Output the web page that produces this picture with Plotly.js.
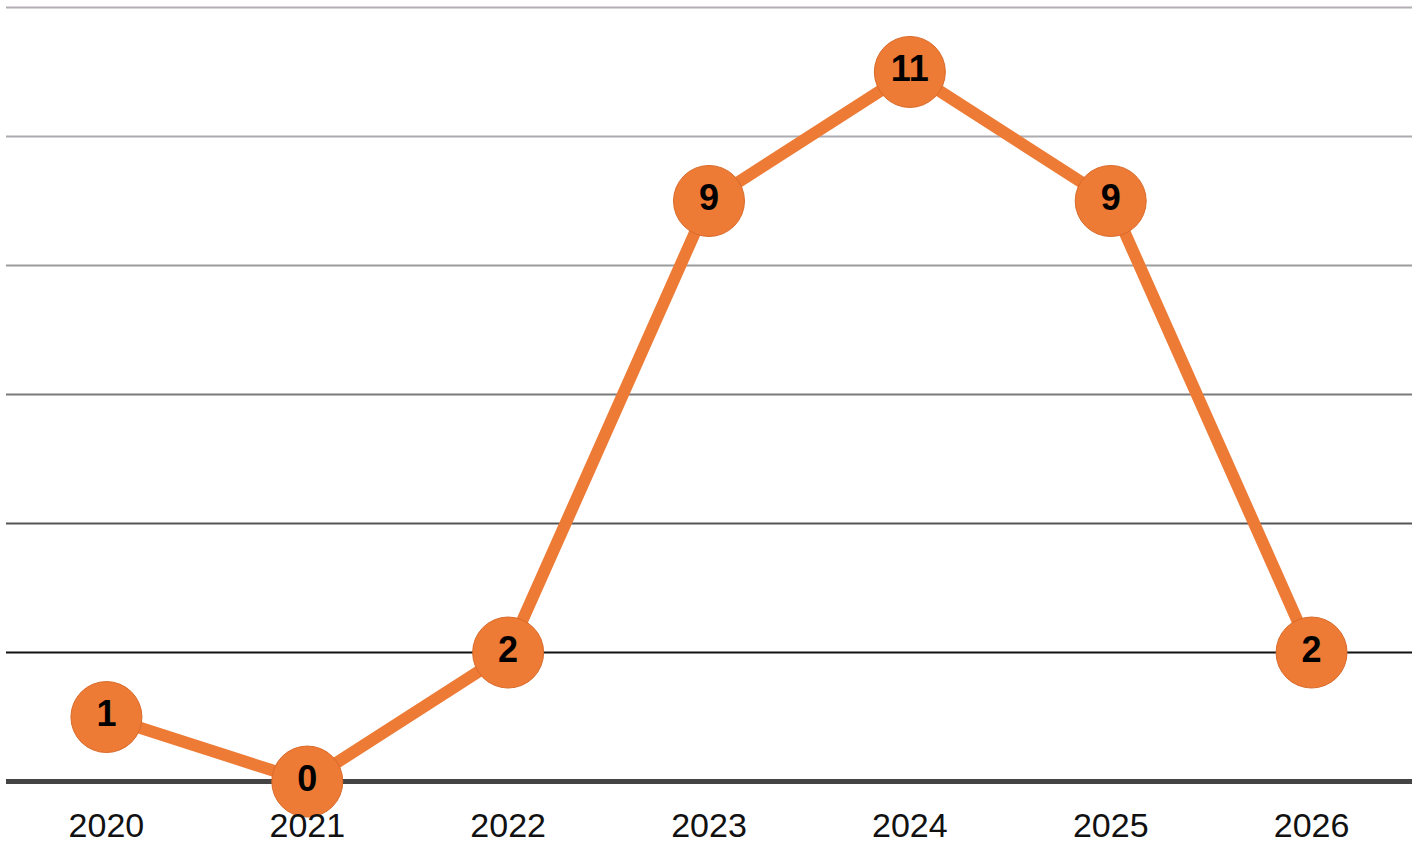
<!DOCTYPE html>
<html>
<head>
<meta charset="utf-8">
<script src="https://cdn.plot.ly/plotly-3.0.1.min.js"></script>
<style>
  html, body { margin: 0; padding: 0; background: #fff; }
  #chart { width: 1417px; height: 846px; }
</style>
</head>
<body>
<div id="chart"></div>
<script>
const years = ["2020", "2021", "2022", "2023", "2024", "2025", "2026"];
const counts = [1, 0, 2, 9, 11, 9, 2];

// horizontal guide lines, lighter toward the top
const gridValues = [2, 4, 6, 8, 10, 12];
const gridColors = ["#111111", "#555555", "#7a7a7a", "#9c9c9c", "#ababb0", "#b3aeb3"];

const orange = "#ED7A35";

const lineTrace = {
  x: years,
  y: counts,
  type: "scatter",
  mode: "lines+markers+text",
  text: counts.map(String),
  textposition: "middle center",
  textfont: { family: "Liberation Sans, Arial, sans-serif", size: 36, color: "#000", weight: "bold" },
  line: { color: orange, width: 12 },
  marker: { size: 71, color: orange, line: { color: "#D96A2A", width: 1 } },
  cliponaxis: false,
  hoverinfo: "x+y",
};

const gridShapes = gridValues.map((v, i) => ({
  type: "line",
  xref: "paper",
  yref: "y",
  x0: 0,
  x1: 1,
  y0: v,
  y1: v,
  layer: "below",
  line: { color: gridColors[i], width: 2 },
}));

gridShapes.push({
  type: "line",
  xref: "paper",
  yref: "y",
  x0: 0,
  x1: 1,
  y0: 0,
  y1: 0,
  layer: "below",
  line: { color: "#444444", width: 5 },
});

const chartLayout = {
  width: 1417,
  height: 846,
  margin: { l: 6, r: 5, t: 1, b: 57.5 },
  paper_bgcolor: "#fff",
  plot_bgcolor: "#fff",
  showlegend: false,
  shapes: gridShapes,
  xaxis: {
    type: "category",
    range: [-0.5, 6.5],
    showgrid: false,
    zeroline: false,
    showline: false,
    ticks: "",
    ticklabelstandoff: 14,
    tickfont: { family: "Liberation Sans, Arial, sans-serif", size: 34, color: "#111" },
  },
  yaxis: {
    range: [-0.1, 12.1],
    showgrid: false,
    zeroline: false,
    showline: false,
    showticklabels: false,
    ticks: "",
  },
};

Plotly.newPlot("chart", [lineTrace], chartLayout, { displayModeBar: false, staticPlot: true });
</script>
</body>
</html>
